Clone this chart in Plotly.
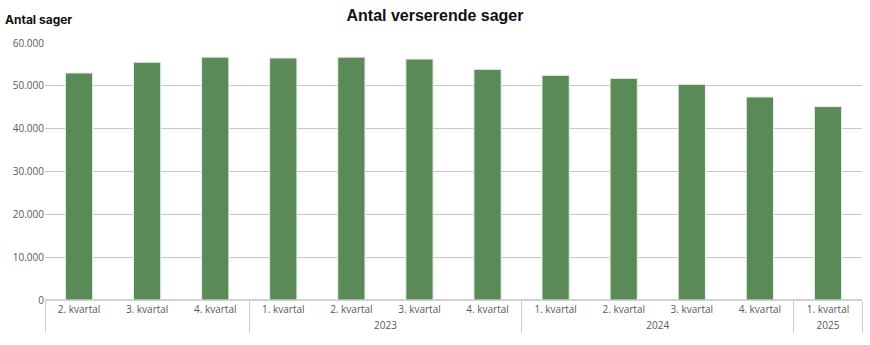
import plotly.graph_objects as go

years = [" ", " ", " ", "2023", "2023", "2023", "2023", "2024", "2024", "2024", "2024", "2025"]
quarters = ["2. kvartal", "3. kvartal", "4. kvartal", "1. kvartal", "2. kvartal", "3. kvartal",
            "4. kvartal", "1. kvartal", "2. kvartal", "3. kvartal", "4. kvartal", "1. kvartal"]
values = [53000, 55500, 56700, 56500, 56700, 56250, 53850, 52450, 51750, 50350, 47400, 45150]
y_ticks = [0, 10000, 20000, 30000, 40000, 50000, 60000]

# make leaf labels unique per year group (invisible suffix) so Plotly keeps the given order
group_index = {g: i for i, g in enumerate(dict.fromkeys(years))}
leaf_labels = [q + "\u200b" * group_index[g] for g, q in zip(years, quarters)]

fig = go.Figure()
fig.add_trace(go.Bar(
    x=[years, leaf_labels], y=values,
    marker=dict(color="#5a8a57", line=dict(color="#e8f0e6", width=1)),
    width=0.4,
))

fig.update_layout(
    width=870, height=345,
    margin=dict(l=45, r=8, t=43, b=45),
    plot_bgcolor="white", paper_bgcolor="white",
    separators=",.",
    showlegend=False,
    font=dict(family="Open Sans, Liberation Sans, sans-serif", color="#595959", size=10),
    title=dict(text="<b>Antal verserende sager</b>", x=0.5, xanchor="center", y=0.955, yanchor="middle",
               font=dict(family="Liberation Sans, Arial, sans-serif", size=16, color="#111111")),
    annotations=[dict(text="<b>Antal sager</b>", xref="paper", yref="paper", x=-0.052, y=1.09,
                      xanchor="left", yanchor="middle", showarrow=False,
                      font=dict(family="Inter, sans-serif", size=12, color="#111111"))],
)
fig.update_xaxes(
    type="multicategory",
    showline=True, linecolor="#d0d0d0", linewidth=1,
    showdividers=True, dividercolor="#d0d0d0", dividerwidth=1,
    ticks="", tickfont=dict(size=10, color="#595959"),
)
fig.update_yaxes(
    range=[0, 60000], tickvals=y_ticks, tickformat=",d",
    showgrid=True, gridcolor="#c8c8c8", gridwidth=1,
    zeroline=True, zerolinecolor="#d0d0d0",
    tickfont=dict(size=10, color="#595959"),
    ticks="", ticklen=0,
)
fig.write_html("out.html")
